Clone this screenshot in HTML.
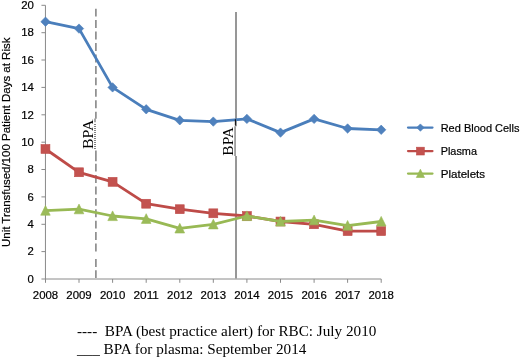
<!DOCTYPE html>
<html><head><meta charset="utf-8"><title>Chart</title>
<style>
html,body{margin:0;padding:0;background:#fff;}
svg{display:block;}
.ax{font-family:"Liberation Sans",sans-serif;font-size:11.6px;fill:#000;stroke:#000;stroke-width:0.2px;}
.ser{font-family:"Liberation Serif",serif;fill:#000;}
</style></head><body>
<svg width="520" height="358" viewBox="0 0 520 358">
<rect width="520" height="358" fill="#fff"/>

<g stroke="#8a8a8a" stroke-width="1" fill="none">
<line x1="45.45" y1="5.3" x2="45.45" y2="279.0"/>
<line x1="45.45" y1="279.0" x2="381.2" y2="279.0"/>
<line x1="41.45" y1="279.0" x2="45.45" y2="279.0"/>
<line x1="41.45" y1="251.6" x2="45.45" y2="251.6"/>
<line x1="41.45" y1="224.3" x2="45.45" y2="224.3"/>
<line x1="41.45" y1="196.9" x2="45.45" y2="196.9"/>
<line x1="41.45" y1="169.5" x2="45.45" y2="169.5"/>
<line x1="41.45" y1="142.2" x2="45.45" y2="142.2"/>
<line x1="41.45" y1="114.8" x2="45.45" y2="114.8"/>
<line x1="41.45" y1="87.4" x2="45.45" y2="87.4"/>
<line x1="41.45" y1="60.0" x2="45.45" y2="60.0"/>
<line x1="41.45" y1="32.7" x2="45.45" y2="32.7"/>
<line x1="41.45" y1="5.3" x2="45.45" y2="5.3"/>
<line x1="45.5" y1="279.0" x2="45.5" y2="282.8"/>
<line x1="79.0" y1="279.0" x2="79.0" y2="282.8"/>
<line x1="112.6" y1="279.0" x2="112.6" y2="282.8"/>
<line x1="146.2" y1="279.0" x2="146.2" y2="282.8"/>
<line x1="179.8" y1="279.0" x2="179.8" y2="282.8"/>
<line x1="213.3" y1="279.0" x2="213.3" y2="282.8"/>
<line x1="246.9" y1="279.0" x2="246.9" y2="282.8"/>
<line x1="280.5" y1="279.0" x2="280.5" y2="282.8"/>
<line x1="314.1" y1="279.0" x2="314.1" y2="282.8"/>
<line x1="347.6" y1="279.0" x2="347.6" y2="282.8"/>
<line x1="381.2" y1="279.0" x2="381.2" y2="282.8"/>
</g>
<text class="ax" x="33.85" y="282.7" text-anchor="end" textLength="6.3" lengthAdjust="spacingAndGlyphs">0</text>
<text class="ax" x="33.85" y="255.3" text-anchor="end" textLength="6.3" lengthAdjust="spacingAndGlyphs">2</text>
<text class="ax" x="33.85" y="228.0" text-anchor="end" textLength="6.3" lengthAdjust="spacingAndGlyphs">4</text>
<text class="ax" x="33.85" y="200.6" text-anchor="end" textLength="6.3" lengthAdjust="spacingAndGlyphs">6</text>
<text class="ax" x="33.85" y="173.2" text-anchor="end" textLength="6.3" lengthAdjust="spacingAndGlyphs">8</text>
<text class="ax" x="33.85" y="145.8" text-anchor="end" textLength="12.7" lengthAdjust="spacingAndGlyphs">10</text>
<text class="ax" x="33.85" y="118.5" text-anchor="end" textLength="12.7" lengthAdjust="spacingAndGlyphs">12</text>
<text class="ax" x="33.85" y="91.1" text-anchor="end" textLength="12.7" lengthAdjust="spacingAndGlyphs">14</text>
<text class="ax" x="33.85" y="63.7" text-anchor="end" textLength="12.7" lengthAdjust="spacingAndGlyphs">16</text>
<text class="ax" x="33.85" y="36.4" text-anchor="end" textLength="12.7" lengthAdjust="spacingAndGlyphs">18</text>
<text class="ax" x="33.85" y="9.0" text-anchor="end" textLength="12.7" lengthAdjust="spacingAndGlyphs">20</text>
<text class="ax" x="45.5" y="299.3" text-anchor="middle" textLength="25.4" lengthAdjust="spacingAndGlyphs">2008</text>
<text class="ax" x="79.0" y="299.3" text-anchor="middle" textLength="25.4" lengthAdjust="spacingAndGlyphs">2009</text>
<text class="ax" x="112.6" y="299.3" text-anchor="middle" textLength="25.4" lengthAdjust="spacingAndGlyphs">2010</text>
<text class="ax" x="146.2" y="299.3" text-anchor="middle" textLength="25.4" lengthAdjust="spacingAndGlyphs">2011</text>
<text class="ax" x="179.8" y="299.3" text-anchor="middle" textLength="25.4" lengthAdjust="spacingAndGlyphs">2012</text>
<text class="ax" x="213.3" y="299.3" text-anchor="middle" textLength="25.4" lengthAdjust="spacingAndGlyphs">2013</text>
<text class="ax" x="246.9" y="299.3" text-anchor="middle" textLength="25.4" lengthAdjust="spacingAndGlyphs">2014</text>
<text class="ax" x="280.5" y="299.3" text-anchor="middle" textLength="25.4" lengthAdjust="spacingAndGlyphs">2015</text>
<text class="ax" x="314.1" y="299.3" text-anchor="middle" textLength="25.4" lengthAdjust="spacingAndGlyphs">2016</text>
<text class="ax" x="347.6" y="299.3" text-anchor="middle" textLength="25.4" lengthAdjust="spacingAndGlyphs">2017</text>
<text class="ax" x="381.2" y="299.3" text-anchor="middle" textLength="25.4" lengthAdjust="spacingAndGlyphs">2018</text>
<text class="ax" transform="translate(9.9,142.3) rotate(-90)" text-anchor="middle" textLength="209.5" lengthAdjust="spacingAndGlyphs">Unit Transfused/100 Patient Days at Risk</text>
<path d="M95.9 8.7V16.6 M95.9 20.1V28.0 M95.9 31.6V39.5 M95.9 43.0V50.9 M95.9 54.5V62.4 M95.9 66.0V73.9 M95.9 77.4V85.3 M95.9 88.9V96.8 M95.9 100.3V108.2 M95.9 111.8V118.7 M95.9 150.4V161.2 M95.9 163.7V171.6 M95.9 175.1V183.0 M95.9 186.5V194.4 M95.9 197.9V205.8 M95.9 209.3V217.2 M95.9 220.7V228.6 M95.9 232.1V240.0 M95.9 243.5V251.4 M95.9 258.9V266.9 M95.9 270.3V278.0" stroke="#7f7f7f" stroke-width="1.5" fill="none"/>
<path d="M95 118.6V122.2" fill="none" stroke="#8a8a8a" stroke-width="1.5"/><path d="M95 124V150" fill="none" stroke="#626262" stroke-width="1.6" stroke-dasharray="1,1"/>
<path d="M236 12.1V126.3" stroke="#858585" stroke-width="1.7" fill="none"/>
<path d="M235.05 126.3V155.9" stroke="#787878" stroke-width="1.3" fill="none"/>
<path d="M236 155.9V278.6" stroke="#858585" stroke-width="1.7" fill="none"/>
<polyline points="45.5,21.7 79.0,28.6 112.6,87.4 146.2,109.3 179.8,120.3 213.3,121.6 246.9,118.9 280.5,132.6 314.1,118.9 347.6,128.5 381.2,129.8" fill="none" stroke="#4a7ebb" stroke-width="2.8" stroke-linejoin="round" stroke-linecap="round"/>
<path d="M45.5 17.0L50.2 21.7L45.5 26.4L40.8 21.7Z" fill="#4f81bd" stroke="#4a7ebb" stroke-width="0.6" stroke-linejoin="miter"/>
<path d="M79.0 23.9L83.7 28.6L79.0 33.3L74.3 28.6Z" fill="#4f81bd" stroke="#4a7ebb" stroke-width="0.6" stroke-linejoin="miter"/>
<path d="M112.6 82.7L117.3 87.4L112.6 92.1L107.9 87.4Z" fill="#4f81bd" stroke="#4a7ebb" stroke-width="0.6" stroke-linejoin="miter"/>
<path d="M146.2 104.6L150.9 109.3L146.2 114.0L141.5 109.3Z" fill="#4f81bd" stroke="#4a7ebb" stroke-width="0.6" stroke-linejoin="miter"/>
<path d="M179.8 115.6L184.4 120.3L179.8 125.0L175.1 120.3Z" fill="#4f81bd" stroke="#4a7ebb" stroke-width="0.6" stroke-linejoin="miter"/>
<path d="M213.3 116.9L218.0 121.6L213.3 126.3L208.6 121.6Z" fill="#4f81bd" stroke="#4a7ebb" stroke-width="0.6" stroke-linejoin="miter"/>
<path d="M246.9 114.2L251.6 118.9L246.9 123.6L242.2 118.9Z" fill="#4f81bd" stroke="#4a7ebb" stroke-width="0.6" stroke-linejoin="miter"/>
<path d="M280.5 127.9L285.2 132.6L280.5 137.3L275.8 132.6Z" fill="#4f81bd" stroke="#4a7ebb" stroke-width="0.6" stroke-linejoin="miter"/>
<path d="M314.1 114.2L318.8 118.9L314.1 123.6L309.4 118.9Z" fill="#4f81bd" stroke="#4a7ebb" stroke-width="0.6" stroke-linejoin="miter"/>
<path d="M347.6 123.8L352.3 128.5L347.6 133.2L342.9 128.5Z" fill="#4f81bd" stroke="#4a7ebb" stroke-width="0.6" stroke-linejoin="miter"/>
<path d="M381.2 125.1L385.9 129.8L381.2 134.5L376.5 129.8Z" fill="#4f81bd" stroke="#4a7ebb" stroke-width="0.6" stroke-linejoin="miter"/>
<polyline points="45.5,149.0 79.0,172.3 112.6,181.8 146.2,203.7 179.8,209.2 213.3,213.3 246.9,216.0 280.5,221.5 314.1,224.3 347.6,231.1 381.2,231.1" fill="none" stroke="#be4b48" stroke-width="2.8" stroke-linejoin="round" stroke-linecap="round"/>
<rect x="41.00" y="144.54" width="8.90" height="8.90" fill="#c3524f" stroke="#be4b48" stroke-width="0.6"/>
<rect x="74.58" y="167.81" width="8.90" height="8.90" fill="#c3524f" stroke="#be4b48" stroke-width="0.6"/>
<rect x="108.15" y="177.39" width="8.90" height="8.90" fill="#c3524f" stroke="#be4b48" stroke-width="0.6"/>
<rect x="141.73" y="199.28" width="8.90" height="8.90" fill="#c3524f" stroke="#be4b48" stroke-width="0.6"/>
<rect x="175.30" y="204.76" width="8.90" height="8.90" fill="#c3524f" stroke="#be4b48" stroke-width="0.6"/>
<rect x="208.88" y="208.86" width="8.90" height="8.90" fill="#c3524f" stroke="#be4b48" stroke-width="0.6"/>
<rect x="242.45" y="211.60" width="8.90" height="8.90" fill="#c3524f" stroke="#be4b48" stroke-width="0.6"/>
<rect x="276.03" y="217.07" width="8.90" height="8.90" fill="#c3524f" stroke="#be4b48" stroke-width="0.6"/>
<rect x="309.60" y="219.81" width="8.90" height="8.90" fill="#c3524f" stroke="#be4b48" stroke-width="0.6"/>
<rect x="343.18" y="226.65" width="8.90" height="8.90" fill="#c3524f" stroke="#be4b48" stroke-width="0.6"/>
<rect x="376.75" y="226.65" width="8.90" height="8.90" fill="#c3524f" stroke="#be4b48" stroke-width="0.6"/>
<polyline points="45.5,210.6 79.0,209.2 112.6,216.0 146.2,218.8 179.8,228.4 213.3,224.3 246.9,216.0 280.5,221.5 314.1,220.2 347.6,225.6 381.2,221.5" fill="none" stroke="#98b954" stroke-width="2.8" stroke-linejoin="round" stroke-linecap="round"/>
<path d="M45.5 205.5L50.2 215.2L40.7 215.2Z" fill="#9bbb59" stroke="#98b954" stroke-width="0.6" stroke-linejoin="miter"/>
<path d="M79.0 204.1L83.8 213.8L74.2 213.8Z" fill="#9bbb59" stroke="#98b954" stroke-width="0.6" stroke-linejoin="miter"/>
<path d="M112.6 210.9L117.4 220.6L107.8 220.6Z" fill="#9bbb59" stroke="#98b954" stroke-width="0.6" stroke-linejoin="miter"/>
<path d="M146.2 213.7L151.0 223.4L141.4 223.4Z" fill="#9bbb59" stroke="#98b954" stroke-width="0.6" stroke-linejoin="miter"/>
<path d="M179.8 223.3L184.6 233.0L174.9 233.0Z" fill="#9bbb59" stroke="#98b954" stroke-width="0.6" stroke-linejoin="miter"/>
<path d="M213.3 219.2L218.1 228.9L208.5 228.9Z" fill="#9bbb59" stroke="#98b954" stroke-width="0.6" stroke-linejoin="miter"/>
<path d="M246.9 210.9L251.7 220.6L242.1 220.6Z" fill="#9bbb59" stroke="#98b954" stroke-width="0.6" stroke-linejoin="miter"/>
<path d="M280.5 216.4L285.3 226.1L275.7 226.1Z" fill="#9bbb59" stroke="#98b954" stroke-width="0.6" stroke-linejoin="miter"/>
<path d="M314.1 215.1L318.9 224.8L309.2 224.8Z" fill="#9bbb59" stroke="#98b954" stroke-width="0.6" stroke-linejoin="miter"/>
<path d="M347.6 220.5L352.4 230.2L342.8 230.2Z" fill="#9bbb59" stroke="#98b954" stroke-width="0.6" stroke-linejoin="miter"/>
<path d="M381.2 216.4L386.0 226.1L376.4 226.1Z" fill="#9bbb59" stroke="#98b954" stroke-width="0.6" stroke-linejoin="miter"/>
<line x1="235.4" y1="119.2" x2="235.4" y2="125.6" stroke="#111" stroke-width="1.1"/>
<text class="ser" font-size="15.2" transform="translate(93.1,149.1) rotate(-90)" textLength="29.5" lengthAdjust="spacingAndGlyphs">BPA</text>
<text class="ser" font-size="15.2" transform="translate(233,155.7) rotate(-90)" textLength="28.7" lengthAdjust="spacingAndGlyphs">BPA</text>
<line x1="408" y1="127.6" x2="432.5" y2="127.6" stroke="#4a7ebb" stroke-width="2.2" stroke-linecap="round"/>
<path d="M420.4 123.9L424.1 127.6L420.4 131.3L416.7 127.6Z" fill="#4f81bd" stroke="#4a7ebb" stroke-width="0.6" stroke-linejoin="miter"/>
<text class="ax" x="440.7" y="131.7" textLength="78.8" lengthAdjust="spacingAndGlyphs">Red Blood Cells</text>
<line x1="408" y1="151.1" x2="432.5" y2="151.1" stroke="#be4b48" stroke-width="2.2" stroke-linecap="round"/>
<rect x="416.50" y="147.20" width="7.80" height="7.80" fill="#c3524f" stroke="#be4b48" stroke-width="0.6"/>
<text class="ax" x="440.7" y="155.2" textLength="36.3" lengthAdjust="spacingAndGlyphs">Plasma</text>
<line x1="408" y1="173.6" x2="432.5" y2="173.6" stroke="#98b954" stroke-width="2.2" stroke-linecap="round"/>
<path d="M420.4 169.2L424.5 177.5L416.3 177.5Z" fill="#9bbb59" stroke="#98b954" stroke-width="0.6" stroke-linejoin="miter"/>
<text class="ax" x="440.7" y="177.7" textLength="44.4" lengthAdjust="spacingAndGlyphs">Platelets</text>
<text class="ser" font-size="15.2" x="77" y="336.3">---- &#160;BPA (best practice alert) for RBC: July 2010</text>
<text class="ser" font-size="15.2" x="77" y="353.6">___ BPA for plasma: September 2014</text>
</svg></body></html>
